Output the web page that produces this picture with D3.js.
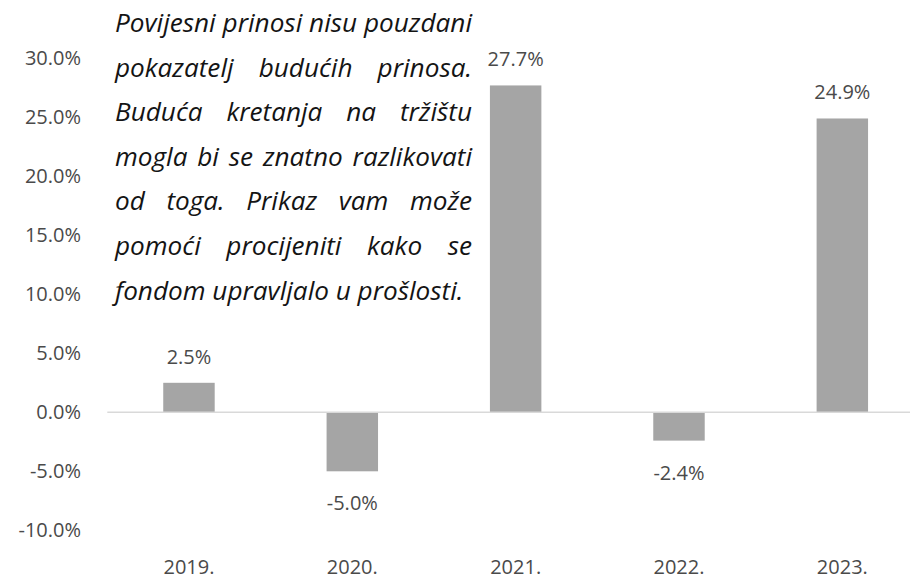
<!DOCTYPE html>
<html>
<head>
<meta charset="utf-8">
<script src="https://cdn.jsdelivr.net/npm/d3@7"></script>
<style>
  body { margin: 0; background: #fff; }
  svg { display: block; font-family: "Open Sans", Lato, sans-serif; }
</style>
</head>
<body>
<svg id="chart" width="910" height="580"></svg>
<script>
// data
var years = ["2019.", "2020.", "2021.", "2022.", "2023."];
var returns = [2.5, -5.0, 27.7, -2.4, 24.9];
var yTicks = [-10, -5, 0, 5, 10, 15, 20, 25, 30];
var noteLines = [
  "Povijesni prinosi nisu pouzdani",
  "pokazatelj budućih prinosa.",
  "Buduća kretanja na tržištu",
  "mogla bi se znatno razlikovati",
  "od toga. Prikaz vam može",
  "pomoći procijeniti kako se",
  "fondom upravljalo u prošlosti."
];

var svg = d3.select("#chart");
var textCol = "#4a4a4a";
var labelSize = "20px";

var x = d3.scaleBand()
  .domain(years)
  .range([107.3, 924])
  .paddingInner(0.685)
  .paddingOuter(0.3425);

var y = d3.scaleLinear()
  .domain([-10, 30])
  .range([530.3, 58.3]);

// y tick labels (no axis line)
svg.append("g")
  .selectAll("text")
  .data(yTicks)
  .enter().append("text")
  .attr("x", 81)
  .attr("y", function(d) { return y(d); })
  .attr("dy", "0.35em")
  .attr("text-anchor", "end")
  .attr("fill", textCol)
  .style("font-size", labelSize)
  .text(function(d) { return d.toFixed(1) + "%"; });

// bars
svg.append("g")
  .selectAll("rect")
  .data(returns)
  .enter().append("rect")
  .attr("x", function(d, i) { return x(years[i]); })
  .attr("y", function(d) { return y(Math.max(0, d)); })
  .attr("width", x.bandwidth())
  .attr("height", function(d) { return Math.abs(y(d) - y(0)); })
  .attr("fill", "#a5a5a5");

// zero line
svg.append("line")
  .attr("x1", 107.3).attr("x2", 910)
  .attr("y1", y(0)).attr("y2", y(0))
  .attr("stroke", "#d9d9d9")
  .attr("stroke-width", 1.5);

// value labels
svg.append("g")
  .selectAll("text")
  .data(returns)
  .enter().append("text")
  .attr("x", function(d, i) { return x(years[i]) + x.bandwidth() / 2; })
  .attr("y", function(d) { return d >= 0 ? y(d) - 26 : y(d) + 32; })
  .attr("dy", "0.35em")
  .attr("text-anchor", "middle")
  .attr("fill", textCol)
  .style("font-size", labelSize)
  .text(function(d) { return d.toFixed(1) + "%"; });

// category labels
svg.append("g")
  .selectAll("text")
  .data(years)
  .enter().append("text")
  .attr("x", function(d) { return x(d) + x.bandwidth() / 2; })
  .attr("y", 567)
  .attr("dy", "0.35em")
  .attr("text-anchor", "middle")
  .attr("fill", textCol)
  .style("font-size", labelSize)
  .text(function(d) { return d; });

// justified italic note, sized so the first line fills the block naturally
var noteLeft = 115, noteRight = 472;
var note = svg.append("g")
  .attr("fill", "#141414")
  .style("font-style", "italic");

var probe = note.append("text").style("font-size", "24px").text(noteLines[0]);
var fs = 24 * (noteRight - noteLeft) / probe.node().getComputedTextLength();
probe.remove();
note.style("font-size", fs + "px");

noteLines.forEach(function(line, li) {
  var words = line.split(" ");
  var base = 32 + li * 44.6;
  var nodes = words.map(function(w) {
    return note.append("text").attr("y", base).text(w);
  });
  var widths = nodes.map(function(n) { return n.node().getComputedTextLength(); });
  var total = d3.sum(widths);
  var last = li === noteLines.length - 1;
  var gap = last ? fs * 0.26 : (noteRight - noteLeft - total) / (words.length - 1);
  var cx = noteLeft;
  nodes.forEach(function(n, i) {
    n.attr("x", cx);
    cx += widths[i] + gap;
  });
});
</script>
</body>
</html>
